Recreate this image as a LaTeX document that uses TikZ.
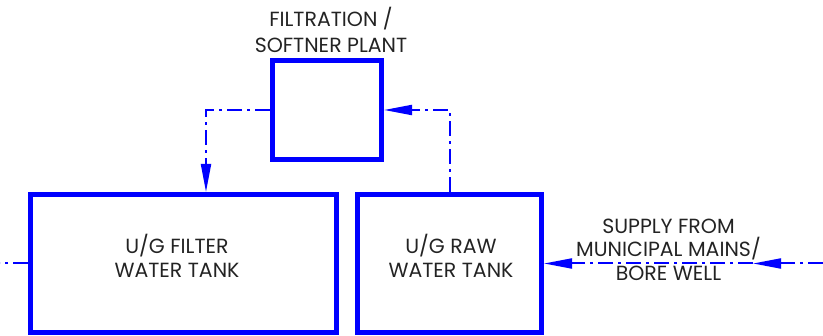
\documentclass[tikz,border=0pt]{standalone}
\usepackage{fontspec}
\setmainfont{Poppins}
\usetikzlibrary{arrows.meta}
\definecolor{pblue}{RGB}{0,0,255}
\definecolor{ptext}{RGB}{35,35,35}
\begin{document}
\begin{tikzpicture}[x=1pt,y=-1pt,
  tank/.style={draw=pblue,line width=5pt,inner sep=0pt,fill=none},
  flow/.style={draw=pblue,line width=2pt,dash pattern=on 15pt off 5pt on 3pt off 5pt},
  tip/.style={-{Triangle[length=28pt,width=10pt]}},
  lbl/.style={text=ptext,font=\fontsize{20.5}{24}\selectfont,align=center,anchor=base,inner sep=0pt}
]
\useasboundingbox (0,0) rectangle (823,336);
% boxes
\node[tank,minimum width=109.5pt,minimum height=99pt] (filt) at (326.75,110) {};
\node[tank,minimum width=306pt,minimum height=138pt] (ftank) at (183.5,263.5) {};
\node[tank,minimum width=184pt,minimum height=138pt] (rtank) at (449.5,263.5) {};
% labels
\node[lbl] (lfilt) at (331,53) {FILTRATION /\\[2pt]SOFTNER PLANT};
\node[lbl] (lftank) at (177,278) {U/G FILTER\\WATER TANK};
\node[lbl] (lrtank) at (451,278) {U/G RAW\\WATER TANK};
\node[lbl] (lsupply) at (668.5,281) {SUPPLY FROM\\[-1pt]MUNICIPAL MAINS/\\BORE WELL};
% coordinates
\coordinate (src) at (823,263.5);
\coordinate (mid) at (753,263.5);
\coordinate (out) at (0,263.5);
% connectors
\draw[flow,tip] (filt.west) -| ([xshift=178pt]ftank.north west);
\draw[flow,tip] (rtank.north) |- (filt.east);
\draw[flow,tip] (src) -- (mid);
\draw[flow,tip] (mid) -- (rtank.east);
\draw[flow] (ftank.west) -- (out);
\end{tikzpicture}
\end{document}
